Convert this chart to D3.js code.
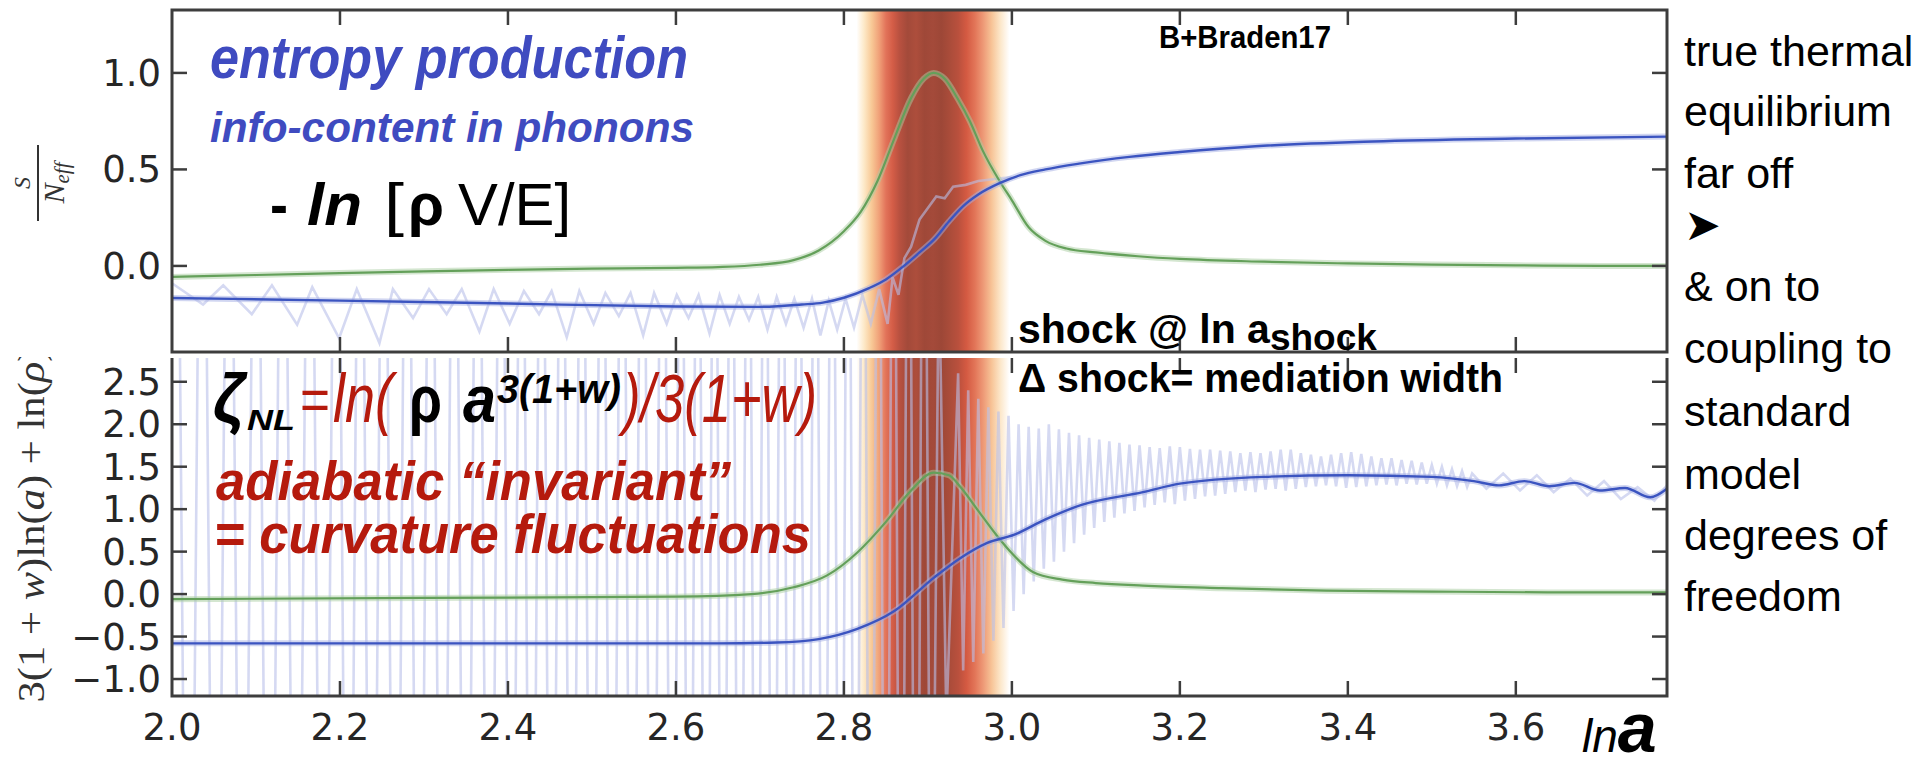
<!DOCTYPE html>
<html>
<head>
<meta charset="utf-8">
<script src="https://cdn.jsdelivr.net/npm/d3@7"></script>
<style>
  html, body { margin: 0; padding: 0; background: #fff; }
  svg { display: block; }
</style>
</head>
<body>
<svg id="chart" width="1917" height="767"></svg>
<script>
// ---- axis ticks ----
const xTicks = [2.0, 2.2, 2.4, 2.6, 2.8, 3.0, 3.2, 3.4, 3.6];
const topYTicks = [0.0, 0.5, 1.0];
const botYTicks = [-1.0, -0.5, 0.0, 0.5, 1.0, 1.5, 2.0, 2.5];

// ---- top panel: entropy per effective degree of freedom ----
const topGreenX = [2.0, 2.1, 2.2, 2.3, 2.4, 2.5, 2.6, 2.65, 2.7, 2.74, 2.77, 2.8, 2.82, 2.84, 2.86, 2.88, 2.895, 2.907, 2.92, 2.935, 2.95, 2.965, 2.986, 3.0, 3.02, 3.04, 3.065, 3.1, 3.15, 3.2, 3.3, 3.4, 3.5, 3.6, 3.7, 3.78];
const topGreenY = [-0.057, -0.047, -0.037, -0.028, -0.02, -0.014, -0.01, -0.006, 0.006, 0.03, 0.08, 0.18, 0.28, 0.44, 0.66, 0.87, 0.97, 1.0, 0.97, 0.87, 0.75, 0.6, 0.435, 0.34, 0.2, 0.13, 0.09, 0.07, 0.05, 0.036, 0.022, 0.013, 0.007, 0.003, 0.0, 0.0];

const topBlueX = [2.0, 2.2, 2.4, 2.6, 2.7, 2.75, 2.775, 2.8, 2.83, 2.85, 2.87, 2.89, 2.908, 2.925, 2.942, 2.96, 2.986, 3.01, 3.04, 3.08, 3.14, 3.2, 3.29, 3.43, 3.6, 3.78];
const topBlueY = [-0.166, -0.18, -0.195, -0.21, -0.212, -0.2, -0.19, -0.165, -0.115, -0.07, -0.005, 0.07, 0.14, 0.23, 0.31, 0.37, 0.43, 0.47, 0.5, 0.53, 0.565, 0.59, 0.62, 0.645, 0.66, 0.67];

// raw (unsmoothed) entropy samples, [ln a, S/Neff]
const topRawPts = [
  [2.0, -0.09], [2.037, -0.2], [2.061, -0.1], [2.095, -0.25], [2.119, -0.1], [2.149, -0.305], [2.167, -0.11], [2.199, -0.375],
  [2.22, -0.12], [2.247, -0.4], [2.263, -0.12], [2.287, -0.27], [2.306, -0.12], [2.327, -0.25], [2.345, -0.12], [2.366, -0.34],
  [2.383, -0.12], [2.402, -0.3], [2.419, -0.13], [2.437, -0.25], [2.452, -0.13], [2.47, -0.37], [2.485, -0.13], [2.502, -0.3],
  [2.516, -0.14], [2.532, -0.26], [2.546, -0.14], [2.561, -0.36], [2.574, -0.14], [2.589, -0.3], [2.601, -0.15], [2.615, -0.27],
  [2.627, -0.15], [2.64, -0.35], [2.652, -0.15], [2.664, -0.3], [2.675, -0.16], [2.687, -0.28], [2.698, -0.16], [2.709, -0.33],
  [2.72, -0.16], [2.731, -0.3], [2.741, -0.17], [2.752, -0.32], [2.762, -0.17], [2.772, -0.36], [2.782, -0.18], [2.792, -0.33],
  [2.802, -0.17], [2.812, -0.32], [2.822, -0.15], [2.832, -0.3], [2.842, -0.12], [2.852, -0.3], [2.858, -0.06], [2.865, -0.15],
  [2.872, 0.04], [2.88, 0.1], [2.89, 0.24], [2.9, 0.3], [2.91, 0.36], [2.92, 0.35], [2.93, 0.41], [2.945, 0.42], [2.96, 0.44],
  [2.98, 0.45], [3.0, 0.46]
];

// ---- bottom panel: nonlinear curvature variable ----
const botGreenX = [2.0, 2.3, 2.6, 2.69, 2.74, 2.78, 2.816, 2.85, 2.88, 2.907, 2.925, 2.938, 2.96, 2.982, 3.0, 3.025, 3.06, 3.1, 3.156, 3.25, 3.374, 3.5, 3.65, 3.78];
const botGreenY = [-0.06, -0.045, -0.03, 0.0, 0.08, 0.22, 0.49, 0.85, 1.22, 1.43, 1.4, 1.27, 0.98, 0.69, 0.48, 0.26, 0.17, 0.13, 0.1, 0.07, 0.04, 0.03, 0.02, 0.02];

const botBlueX = [2.0, 2.4, 2.65, 2.72, 2.77, 2.816, 2.86, 2.908, 2.938, 2.97, 3.003, 3.04, 3.083, 3.156, 3.2, 3.3, 3.4, 3.5, 3.55, 3.58, 3.61, 3.64, 3.67, 3.7, 3.73, 3.76, 3.78];
const botBlueY = [-0.58, -0.58, -0.58, -0.57, -0.53, -0.41, -0.2, 0.2, 0.42, 0.6, 0.7, 0.88, 1.05, 1.2, 1.3, 1.38, 1.4, 1.38, 1.33, 1.28, 1.33, 1.27, 1.31, 1.22, 1.25, 1.14, 1.24];

// raw samples before the shock: swings far beyond the plotted range
const botRawPts = [
  [2.004, 9], [2.02, -9], [2.036, 9], [2.052, -9], [2.068, 9], [2.084, -9], [2.1, 9], [2.116, -9], [2.132, 9], [2.148, -9],
  [2.164, 9], [2.18, -9], [2.196, 9], [2.21, -9], [2.224, 9], [2.238, -9], [2.252, 9], [2.266, -9], [2.28, 9], [2.294, -9],
  [2.308, 9], [2.322, -9], [2.336, 9], [2.35, -9], [2.364, 9], [2.378, -9], [2.392, 9], [2.404, -9], [2.416, 9], [2.428, -9],
  [2.44, 9], [2.452, -9], [2.464, 9], [2.476, -9], [2.488, 9], [2.5, -9], [2.512, 9], [2.524, -9], [2.536, 9], [2.548, -9],
  [2.56, 9], [2.572, -9], [2.584, 9], [2.596, -9], [2.606, 9], [2.616, -9], [2.626, 9], [2.636, -9], [2.646, 9], [2.656, -9],
  [2.666, 9], [2.676, -9], [2.686, 9], [2.696, -9], [2.706, 9], [2.716, -9], [2.726, 9], [2.736, -9], [2.746, 9], [2.756, -9],
  [2.766, 9], [2.776, -9], [2.786, 9], [2.796, -9], [2.805, 9], [2.814, -9], [2.823, 9], [2.832, -9], [2.841, 9], [2.85, -9],
  [2.859, 9], [2.868, -9], [2.877, 9], [2.886, -9], [2.895, 9], [2.904, -6], [2.913, 4], [2.922, -1.5],
  // ringing after the shock
  [2.936, 2.6], [2.942, -0.9], [2.948, 2.4], [2.954, -0.8], [2.96, 2.3], [2.966, -0.7], [2.972, 2.2], [2.978, -0.55],
  [2.984, 2.15], [2.99, -0.4], [2.996, 2.1], [3.002, -0.2], [3.008, 2.0], [3.014, 0.0], [3.02, 1.97], [3.026, 0.15],
  [3.032, 1.95], [3.038, 0.3], [3.044, 2.0], [3.05, 0.38], [3.056, 1.94], [3.062, 0.5], [3.068, 1.9], [3.074, 0.6],
  [3.08, 1.87], [3.086, 0.7], [3.092, 1.84], [3.098, 0.78], [3.104, 1.82], [3.11, 0.85], [3.116, 1.8], [3.122, 0.9],
  [3.128, 1.78], [3.134, 0.95], [3.14, 1.76], [3.146, 0.98], [3.152, 1.75], [3.158, 1.02], [3.164, 1.73], [3.17, 1.05],
  [3.176, 1.72], [3.182, 1.08], [3.188, 1.74], [3.194, 1.06], [3.2, 1.73], [3.206, 1.1], [3.212, 1.71], [3.218, 1.12],
  [3.224, 1.7], [3.23, 1.15], [3.236, 1.7], [3.242, 1.16], [3.248, 1.69], [3.254, 1.18], [3.26, 1.68], [3.266, 1.2],
  [3.272, 1.66], [3.278, 1.22], [3.284, 1.67], [3.29, 1.2], [3.296, 1.66], [3.302, 1.23], [3.308, 1.68], [3.314, 1.24],
  [3.32, 1.7], [3.326, 1.22], [3.332, 1.7], [3.338, 1.24], [3.344, 1.66], [3.35, 1.26], [3.356, 1.64], [3.362, 1.27],
  [3.368, 1.62], [3.374, 1.28], [3.38, 1.64], [3.386, 1.27], [3.392, 1.66], [3.398, 1.25], [3.404, 1.67], [3.41, 1.26],
  [3.416, 1.65], [3.422, 1.27], [3.428, 1.62], [3.434, 1.28], [3.44, 1.6], [3.446, 1.29], [3.452, 1.6], [3.458, 1.28],
  [3.464, 1.58], [3.47, 1.3], [3.476, 1.57], [3.482, 1.29], [3.488, 1.55], [3.494, 1.3], [3.5, 1.52], [3.506, 1.3],
  [3.512, 1.5], [3.518, 1.28], [3.524, 1.47], [3.53, 1.27], [3.536, 1.45], [3.542, 1.26], [3.548, 1.42],
  [3.565, 1.24], [3.585, 1.42], [3.605, 1.22], [3.625, 1.4], [3.645, 1.2], [3.665, 1.36], [3.685, 1.16], [3.705, 1.33],
  [3.725, 1.12], [3.745, 1.26], [3.765, 1.1], [3.78, 1.28]
];

// ---- shock band colour ramp (ln a) ----
const bandX = [2.815, 2.824, 2.833, 2.842, 2.85, 2.858, 2.866, 2.876, 2.886, 2.896, 2.906, 2.916, 2.926, 2.936, 2.946, 2.956, 2.966, 2.976, 2.986, 2.997];
const bandColor = ["#ffffff", "#fde9c8", "#f8c996", "#f0a078", "#e2735a", "#d45d47", "#b95140", "#a34a3a", "#ad4e3c", "#9f4838", "#a44a3a", "#9d4737", "#aa4c3a", "#b9503d", "#d45a42", "#e27558", "#ee9a77", "#f7c497", "#fce6c8", "#ffffff"];

// ---- layout ----
const svg = d3.select("#chart");
const x = d3.scaleLinear().domain([2.0, 3.78]).range([172, 1667]);
const yTop = d3.scaleLinear().domain([-0.446, 1.326]).range([352, 10]);
const yBot = d3.scaleLinear().domain([-1.2, 2.78]).range([696, 358]);
const zip = (xs, ys) => xs.map((v, i) => [v, ys[i]]);

const defs = svg.append("defs");
const bx0 = x(bandX[0]), bx1 = x(bandX[bandX.length - 1]);
const grad = defs.append("linearGradient").attr("id", "shockBand")
  .attr("gradientUnits", "userSpaceOnUse")
  .attr("x1", bx0).attr("x2", bx1).attr("y1", 0).attr("y2", 0);
bandX.forEach((v, i) => grad.append("stop")
  .attr("offset", (x(v) - bx0) / (bx1 - bx0)).attr("stop-color", bandColor[i]));

defs.append("clipPath").attr("id", "clipTop").append("rect")
  .attr("x", 172).attr("y", 10).attr("width", 1495).attr("height", 342);
defs.append("clipPath").attr("id", "clipBot").append("rect")
  .attr("x", 172).attr("y", 358).attr("width", 1495).attr("height", 338);
defs.append("clipPath").attr("id", "clipYLab").append("rect")
  .attr("x", 0).attr("y", 357).attr("width", 100).attr("height", 410);

function panel(y, clipId, data) {
  const g = svg.append("g").attr("clip-path", `url(#${clipId})`);
  const [y0, y1] = y.range();
  g.append("rect").attr("x", bx0).attr("width", bx1 - bx0)
    .attr("y", y1).attr("height", y0 - y1).attr("fill", "url(#shockBand)");
  const sharp = d3.line().x(d => x(d[0])).y(d => y(d[1]));
  const smooth = d3.line().x(d => x(d[0])).y(d => y(d[1])).curve(d3.curveMonotoneX);
  g.append("path").attr("d", sharp(data.raw)).attr("fill", "none")
    .attr("stroke", "#b9bfe9").attr("stroke-width", 2.6).attr("stroke-opacity", 0.6);
  g.append("path").attr("d", smooth(data.green)).attr("fill", "none")
    .attr("stroke", "#a9cda1").attr("stroke-width", 6).attr("stroke-opacity", 0.5);
  g.append("path").attr("d", smooth(data.green)).attr("fill", "none")
    .attr("stroke", "#64a05a").attr("stroke-width", 2.2);
  g.append("path").attr("d", smooth(data.blue)).attr("fill", "none")
    .attr("stroke", "#a3aee4").attr("stroke-width", 6).attr("stroke-opacity", 0.5);
  g.append("path").attr("d", smooth(data.blue)).attr("fill", "none")
    .attr("stroke", "#3b54c0").attr("stroke-width", 2.4);
}

panel(yTop, "clipTop", { green: zip(topGreenX, topGreenY), blue: zip(topBlueX, topBlueY), raw: topRawPts });
panel(yBot, "clipBot", { green: zip(botGreenX, botGreenY), blue: zip(botBlueX, botBlueY), raw: botRawPts });

// ---- frames and inward ticks ----
const frameColor = "#3d3d3d";
svg.append("rect").attr("x", 172).attr("y", 10).attr("width", 1495).attr("height", 342)
  .attr("fill", "none").attr("stroke", frameColor).attr("stroke-width", 3);
svg.append("path").attr("d", "M172,358V696H1667V358")
  .attr("fill", "none").attr("stroke", frameColor).attr("stroke-width", 3);

const tickLen = 15;
function xTickMarks(yEdge, dir) {
  svg.append("g").selectAll("line").data(xTicks.slice(1)).join("line")
    .attr("x1", d => x(d)).attr("x2", d => x(d))
    .attr("y1", yEdge).attr("y2", yEdge + dir * tickLen)
    .attr("stroke", frameColor).attr("stroke-width", 2.5);
}
xTickMarks(10, 1); xTickMarks(352, -1); xTickMarks(358, 1); xTickMarks(696, -1);

function yTickMarks(y, ticks) {
  const g = svg.append("g");
  g.selectAll("line.l").data(ticks).join("line").attr("class", "l")
    .attr("x1", 172).attr("x2", 172 + tickLen).attr("y1", d => y(d)).attr("y2", d => y(d))
    .attr("stroke", frameColor).attr("stroke-width", 2.5);
  g.selectAll("line.r").data(ticks).join("line").attr("class", "r")
    .attr("x1", 1667).attr("x2", 1667 - tickLen).attr("y1", d => y(d)).attr("y2", d => y(d))
    .attr("stroke", frameColor).attr("stroke-width", 2.5);
}
yTickMarks(yTop, topYTicks);
yTickMarks(yBot, botYTicks);

// ---- tick labels ----
const tickFont = "'DejaVu Sans', sans-serif";
const fmt = d => (d < 0 ? "\u2212" : "") + Math.abs(d).toFixed(1);
svg.append("g").selectAll("text").data(topYTicks).join("text")
  .attr("x", 161).attr("y", d => yTop(d) + 13).attr("text-anchor", "end")
  .attr("font-family", tickFont).attr("font-size", 37).attr("fill", "#262626").text(fmt);
svg.append("g").selectAll("text").data(botYTicks).join("text")
  .attr("x", 161).attr("y", d => yBot(d) + 13).attr("text-anchor", "end")
  .attr("font-family", tickFont).attr("font-size", 37).attr("fill", "#262626").text(fmt);
svg.append("g").selectAll("text").data(xTicks).join("text")
  .attr("x", d => x(d)).attr("y", 740).attr("text-anchor", "middle")
  .attr("font-family", tickFont).attr("font-size", 37).attr("fill", "#262626").text(fmt);

// ---- axis labels ----
const mathFont = "'Liberation Serif', 'DejaVu Serif', serif";
const sLab = svg.append("g").attr("transform", "translate(38,183) rotate(-90)").attr("fill", "#333");
sLab.append("text").attr("x", 0).attr("y", -8).attr("text-anchor", "middle")
  .attr("font-family", mathFont).attr("font-style", "italic").attr("font-size", 24).text("S");
sLab.append("line").attr("x1", -38).attr("x2", 38).attr("y1", 0).attr("y2", 0)
  .attr("stroke", "#333").attr("stroke-width", 2);
const nl = sLab.append("text").attr("x", 0).attr("y", 26).attr("text-anchor", "middle")
  .attr("font-family", mathFont).attr("font-style", "italic").attr("font-size", 30);
nl.append("tspan").text("N");
nl.append("tspan").attr("font-size", 21).attr("dy", 5).text("eff");

svg.append("g").attr("clip-path", "url(#clipYLab)")
  .append("text").attr("transform", "translate(44,525) rotate(-90)")
  .attr("text-anchor", "middle").attr("font-family", mathFont).attr("font-size", 37)
  .attr("fill", "#333").attr("textLength", 355).attr("lengthAdjust", "spacingAndGlyphs")
  .html("3(1 + <tspan font-style='italic'>w</tspan>)ln(<tspan font-style='italic'>a</tspan>) + ln(<tspan font-style='italic'>\u03c1</tspan>)");

// ---- annotations ----
const sans = "'Liberation Sans', Arial, sans-serif";
function label(txt, xp, yp, size, opts = {}) {
  const t = svg.append("text").attr("x", xp).attr("y", yp)
    .attr("font-family", opts.family || sans).attr("font-size", size)
    .attr("font-weight", opts.weight || "normal").attr("font-style", opts.style || "normal")
    .attr("fill", opts.fill || "#000").text(txt);
  if (opts.len) t.attr("textLength", opts.len).attr("lengthAdjust", "spacingAndGlyphs");
  return t;
}
const blue = "#3f4bc0", red = "#b51a0d";
label("entropy production", 210, 78, 60, { weight: "bold", style: "italic", fill: blue, len: 478 });
label("info-content in phonons", 210, 142, 42, { weight: "bold", style: "italic", fill: blue, len: 484 });

label("-", 270, 225, 60, { weight: "bold", len: 18 });
label("ln", 307, 225, 60, { weight: "bold", style: "italic", len: 55 });
label("[", 384, 225, 60, { len: 20 });
label("\u03c1", 408, 225, 60, { weight: "bold", len: 36 });
label("V/E]", 458, 225, 60, { len: 113 });

label("B+Braden17", 1159, 48, 31, { weight: "bold", len: 172 });

// shock location and width
const sh = svg.append("text").attr("x", 1018).attr("y", 343)
  .attr("font-family", sans).attr("font-size", 41).attr("font-weight", "bold").attr("fill", "#000");
sh.append("tspan").text("shock @ ln a");
sh.append("tspan").attr("dy", 7).attr("font-size", 37).text("shock");
label("\u0394 shock= mediation width", 1018, 392, 41, { weight: "bold", len: 485 });

// nonlinear curvature formula
label("\u03b6", 213, 422, 68, { weight: "bold", style: "italic", len: 32 });
label("NL", 247, 430, 30, { weight: "bold", style: "italic", len: 48 });
label("=", 300, 420, 60, { fill: red, len: 30 });
label("ln(", 333, 422, 68, { style: "italic", fill: red, len: 60 });
label("\u03c1", 409, 422, 66, { weight: "bold", len: 33 });
label("a", 463, 422, 66, { weight: "bold", style: "italic", len: 33 });
label("3(1+w)", 497, 403, 40, { weight: "bold", style: "italic", len: 124 });
label(")/3(1+w)", 623, 422, 68, { style: "italic", fill: red, len: 194 });

label("adiabatic \u201cinvariant\u201d", 216, 500, 56, { weight: "bold", style: "italic", fill: red, len: 515 });
label("= curvature fluctuations", 214, 553, 56, { weight: "bold", style: "italic", fill: red, len: 597 });

// x-axis name
const lna = svg.append("text").attr("x", 1582).attr("y", 752).attr("fill", "#000").attr("font-family", sans);
lna.append("tspan").attr("font-style", "italic").attr("font-size", 46).text("ln");
lna.append("tspan").attr("font-style", "italic").attr("font-weight", "bold").attr("font-size", 70).text("a");

// right-hand commentary
const notes = ["true thermal", "equilibrium", "far off", "\u27a4", "& on to", "coupling to", "standard", "model", "degrees of", "freedom"];
const noteY = [66, 126, 188, 240, 301, 363, 426, 489, 550, 611];
svg.append("g").selectAll("text").data(notes).join("text")
  .attr("x", 1684).attr("y", (d, i) => noteY[i])
  .attr("font-family", (d, i) => i === 3 ? "'DejaVu Sans', sans-serif" : sans)
  .attr("font-size", (d, i) => i === 3 ? 44 : 43).attr("fill", "#000").text(d => d);
</script>
</body>
</html>
